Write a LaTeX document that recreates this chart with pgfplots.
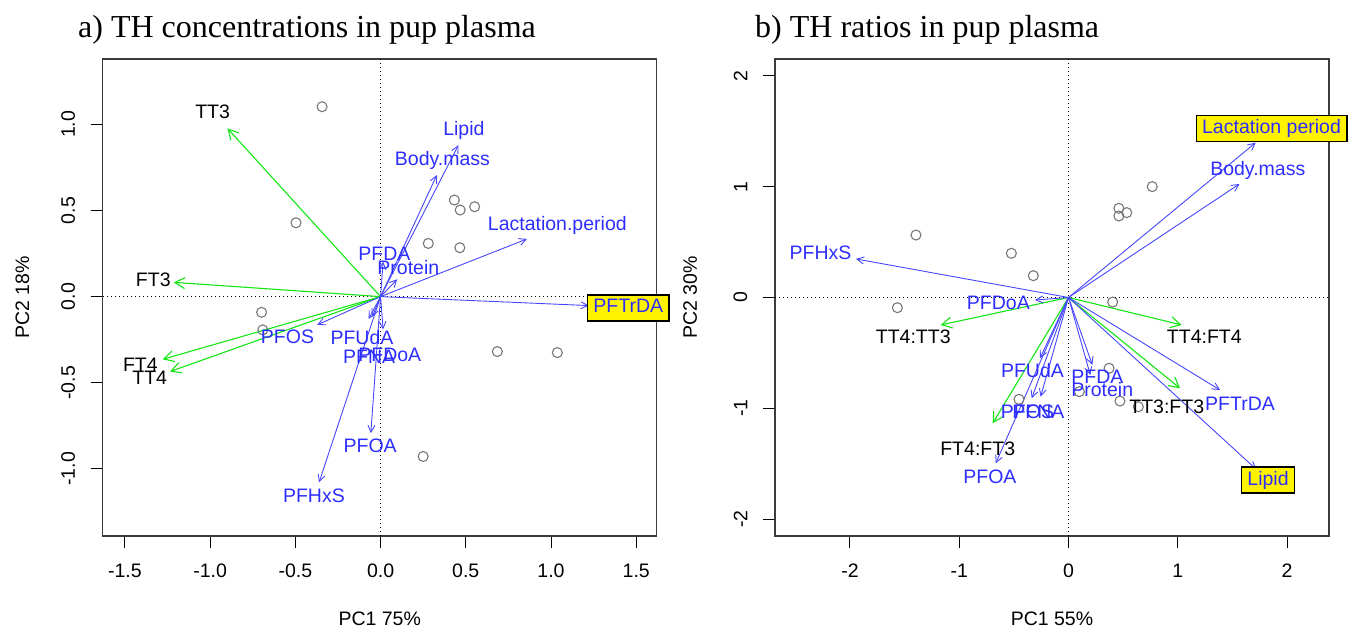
\documentclass[border=0pt]{standalone}
\usepackage{pgfplots}
\pgfplotsset{compat=1.18}
\usepackage{pgfplotstable}
\usepackage{fontspec}
\setmainfont{Liberation Serif}
\newfontfamily\arial{Liberation Sans}
\usetikzlibrary{arrows.meta}

\definecolor{rblue}{RGB}{45,45,255}
\definecolor{arrblue}{RGB}{70,70,255}
\definecolor{rgreen}{RGB}{20,230,20}
\definecolor{boxframe}{RGB}{60,60,60}
\definecolor{ptgray}{RGB}{120,120,120}

\newcommand{\lbl}{\arial\fontsize{19.5}{22}\selectfont}
\newcommand{\ttl}{\fontsize{32}{36}\selectfont}

% ---------- a) TH concentrations ----------
\pgfplotstableread{
x y
-0.343 1.103
-0.496 0.429
0.433 0.561
0.467 0.503
0.552 0.522
0.280 0.309
0.465 0.284
-0.698 -0.091
-0.691 -0.193
0.685 -0.319
1.037 -0.325
0.250 -0.928
}\scoresA

\pgfplotstableread{
u v lx ly label
-0.898 0.977 -0.985 1.073 TT3
-1.213 0.083 -1.333 0.097 FT3
-1.278 -0.364 -1.409 -0.397 FT4
-1.235 -0.435 -1.354 -0.474 TT4
}\thA

\pgfplotstableread{
u v lx ly label
0.457 0.880 0.489 0.967 Lipid
0.330 0.706 0.363 0.789 Body.mass
0.859 0.335 1.037 0.416 Lactation.period
0.015 0.203 0.023 0.251 PFDA
0.098 0.101 0.163 0.170 Protein
-0.372 -0.164 -0.546 -0.232 PFOS
-0.070 -0.130 -0.109 -0.238 PFUdA
0.015 -0.190 0.054 -0.338 PFDoA
-0.050 -0.117 -0.067 -0.352 PFNA
-0.057 -0.793 -0.061 -0.867 PFOA
-0.361 -1.079 -0.391 -1.155 PFHxS
}\varA

\pgfplotstableread{
u v lx ly label
1.222 -0.052 1.453 -0.066 PFTrDA
}\boxA

% ---------- b) TH ratios ----------
\pgfplotstableread{
x y
-1.396 0.564
-0.523 0.399
-0.322 0.197
-1.566 -0.092
0.766 1.001
0.461 0.805
0.461 0.736
0.533 0.766
0.404 -0.041
0.371 -0.639
0.099 -0.850
0.471 -0.935
0.639 -0.986
-0.453 -0.919
}\scoresB

\pgfplotstableread{
u v lx ly label
-1.170 -0.248 -1.421 -0.354 TT4:TT3
1.036 -0.248 1.243 -0.355 TT4:FT4
1.021 -0.820 0.899 -0.986 TT3:FT3
-0.694 -1.136 -0.831 -1.362 FT4:FT3
}\thB

\pgfplotstableread{
u v lx ly label
1.565 1.025 1.732 1.151 Body.mass
-1.945 0.348 -2.269 0.405 PFHxS
-0.307 -0.023 -0.642 -0.053 PFDoA
1.387 -0.835 1.570 -0.956 PFTrDA
0.218 -0.609 0.265 -0.715 PFDA
0.200 -0.700 0.309 -0.835 Protein
-0.261 -0.549 -0.330 -0.661 PFUdA
-0.337 -0.910 -0.375 -1.031 PFOS
-0.255 -0.896 -0.276 -1.031 PFNA
-0.666 -1.497 -0.719 -1.618 PFOA
}\varB

\pgfplotstableread{
u v lx ly label
1.713 1.398 1.858 1.526 {Lactation period}
1.718 -1.551 1.826 -1.648 Lipid
}\boxB

\pgfplotsset{
  biplot/.style={
    scale only axis, width=554pt, height=477pt,
    axis line style={draw=boxframe, line width=1.2pt},
    tick align=outside, major tick length=12pt,
    tick style={black, line width=1pt},
    xtick pos=bottom, ytick pos=left,
    ticklabel style={font=\lbl, inner sep=0pt},
    xticklabel style={anchor=north},
    yticklabel style={rotate=90, anchor=south},
    xticklabel shift=15.5pt, yticklabel shift=15.5pt,
    label style={font=\lbl, inner sep=0pt},
    xlabel style={at={(axis description cs:0.5,-0.1866)}, anchor=base},
    clip=false,
  },
  pts/.style={only marks, mark=o, mark size=5pt, draw=ptgray, line width=1.1pt},
  zeroline/.style={black, line width=0.9pt, dash pattern=on 1pt off 3pt},
  greenarr/.style={rgreen, line width=1.1pt, -{Straight Barb[length=10pt,width=11pt]},
    quiver={u=\thisrow{u}, v=\thisrow{v}}},
  bluearr/.style={arrblue, line width=0.9pt, -{Straight Barb[length=7pt,width=7pt]},
    quiver={u=\thisrow{u}, v=\thisrow{v}}},
  names/.style={only marks, mark=none, nodes near coords, point meta=explicit symbolic,
    nodes near coords style={font=\lbl, text=#1, anchor=center, inner sep=0pt}},
  boxnames/.style={only marks, mark=none, nodes near coords, point meta=explicit symbolic,
    nodes near coords style={font=\lbl, text=rblue, anchor=center, fill=yellow,
      draw=black, line width=1.3pt, inner xsep=6pt, inner ysep=4pt,
      text height=14pt, text depth=4pt}},
}

\begin{document}
\begin{tikzpicture}
\path[use as bounding box] (0,0) rectangle (1357pt,631pt);
\node[anchor=base west, font=\ttl, inner sep=0pt] at (78pt,593pt) {a) TH concentrations in pup plasma};
\node[anchor=base west, font=\ttl, inner sep=0pt] at (755pt,593pt) {b) TH ratios in pup plasma};

\begin{axis}[biplot, at={(102.7pt,95pt)}, anchor=south west,
  xmin=-1.63, xmax=1.62, ymin=-1.39, ymax=1.38,
  xtick={-1.5,-1,-0.5,0,0.5,1,1.5},
  xticklabels={-1.5,-1.0,-0.5,0.0,0.5,1.0,1.5},
  ytick={-1,-0.5,0,0.5,1},
  yticklabels={-1.0,-0.5,0.0,0.5,1.0},
  xlabel={PC1 75\%}, ylabel={PC2 18\%},
  ylabel style={at={(axis description cs:-0.133,0.5)}, anchor=base}]
  \addplot[pts] table {\scoresA};
  \addplot[zeroline] coordinates {(-1.63,0) (1.62,0)};
  \addplot[zeroline] coordinates {(0,-1.39) (0,1.38)};
  \addplot[greenarr] table[x expr=0, y expr=0] {\thA};
  \addplot[bluearr] table[x expr=0, y expr=0] {\varA};
  \addplot[bluearr] table[x expr=0, y expr=0] {\boxA};
  \addplot[names=black] table[x=lx, y=ly, meta=label] {\thA};
  \addplot[names=rblue] table[x=lx, y=ly, meta=label] {\varA};
  \addplot[boxnames] table[x=lx, y=ly, meta=label] {\boxA};
\end{axis}

\begin{axis}[biplot, at={(775pt,95pt)}, anchor=south west,
  xmin=-2.686, xmax=2.384, ymin=-2.153, ymax=2.153,
  xtick={-2,-1,0,1,2}, xticklabels={-2,-1,0,1,2},
  ytick={-2,-1,0,1,2}, yticklabels={-2,-1,0,1,2},
  xlabel={PC1 55\%}, ylabel={PC2 30\%},
  ylabel style={at={(axis description cs:-0.141,0.5)}, anchor=base}]
  \addplot[pts] table {\scoresB};
  \addplot[zeroline] coordinates {(-2.686,0) (2.384,0)};
  \addplot[zeroline] coordinates {(0,-2.153) (0,2.153)};
  \addplot[greenarr] table[x expr=0, y expr=0] {\thB};
  \addplot[bluearr] table[x expr=0, y expr=0] {\varB};
  \addplot[bluearr] table[x expr=0, y expr=0] {\boxB};
  \addplot[names=black] table[x=lx, y=ly, meta=label] {\thB};
  \addplot[names=rblue] table[x=lx, y=ly, meta=label] {\varB};
  \addplot[boxnames] table[x=lx, y=ly, meta=label] {\boxB};
\end{axis}
\end{tikzpicture}
\end{document}
